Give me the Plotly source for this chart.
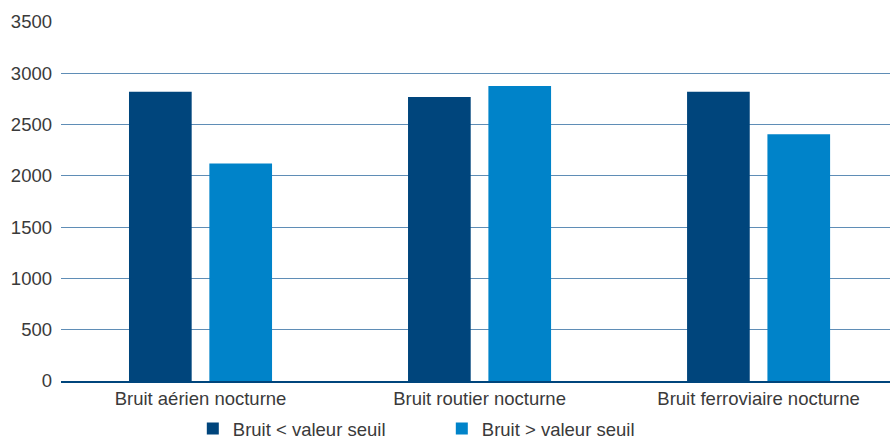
import plotly.graph_objects as go

categories = ["Bruit aérien nocturne", "Bruit routier nocturne", "Bruit ferroviaire nocturne"]
series_names = ["Bruit < valeur seuil", "Bruit > valeur seuil"]
below_threshold = [2820, 2770, 2820]
above_threshold = [2120, 2875, 2405]
y_ticks = [0, 500, 1000, 1500, 2000, 2500, 3000, 3500]

colors = ["#00457c", "#0083c9"]
font_family = "Liberation Sans, Arial, sans-serif"
text_color = "#3a3a3a"

fig = go.Figure()
for name, vals, col in zip(series_names, [below_threshold, above_threshold], colors):
    fig.add_trace(go.Bar(x=categories, y=vals, name=name, marker=dict(color=col, line=dict(width=0))))

fig.update_layout(
    width=890, height=439,
    margin=dict(l=61, r=0, t=22, b=58, autoexpand=False),
    paper_bgcolor="white", plot_bgcolor="white",
    barmode="group", bargap=0.424, bargroupgap=0.22,
    font=dict(family=font_family, size=18.5, color=text_color),
    showlegend=True,
    legend=dict(orientation="h", x=0.159, xanchor="left", yref="container", y=0.023, yanchor="middle",
                font=dict(size=18.5, color=text_color), itemwidth=30,
                entrywidth=204, entrywidthmode="pixels",
                traceorder="normal", bgcolor="rgba(0,0,0,0)"),
)
fig.update_xaxes(type="category", range=[-0.5, 2.471], showgrid=False,
                 showline=True, linecolor="#00457c", linewidth=2,
                 ticks="", tickfont=dict(size=18.5, color=text_color))
fig.update_yaxes(range=[0, 3500], tickvals=y_ticks, showgrid=True,
                 gridcolor="#5f8db6", gridwidth=1, zeroline=False,
                 showline=False, ticks="", ticklabelstandoff=8,
                 tickfont=dict(size=18.5, color=text_color))

fig.write_html("out.html")
